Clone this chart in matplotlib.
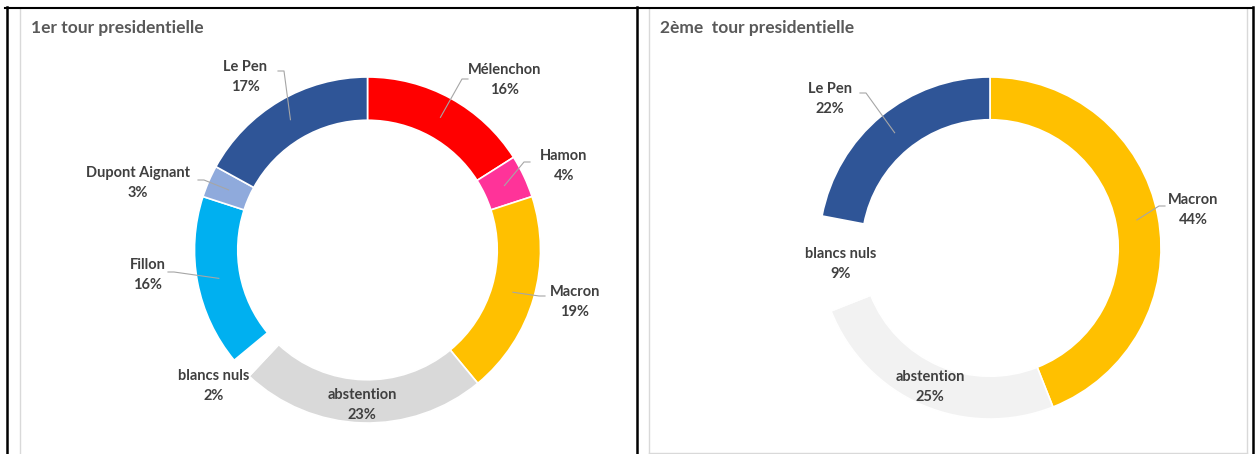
import matplotlib.pyplot as plt
import numpy as np

plt.rcParams['font.family'] = ['Lato', 'DejaVu Sans']

# 1er tour
t1_labels = ['Mélenchon', 'Hamon', 'Macron', 'abstention', 'blancs nuls',
             'Fillon', 'Dupont Aignant', 'Le Pen']
t1_values = [16, 4, 19, 23, 2, 16, 3, 17]
t1_colors = ['#FF0000', '#FF3399', '#FFC000', '#D9D9D9', '#FFFFFF',
             '#00B0F0', '#8FAADC', '#2F5597']

# 2eme tour
t2_labels = ['Macron', 'abstention', 'blancs nuls', 'Le Pen']
t2_values = [44, 25, 9, 22]
t2_colors = ['#FFC000', '#F2F2F2', '#FFFFFF', '#2F5597']

W, H = 1255, 454
fig = plt.figure(figsize=(W / 100, H / 100), dpi=100)
ax = fig.add_axes([0, 0, 1, 1])

text_color = '#404040'
line_color = '#A6A6A6'


def py(y):
    # pixel row (from top) -> data y
    return H - y


def donut(values, colors, cx, cy, r):
    wedges, _ = ax.pie(values, colors=colors, startangle=90, counterclock=False,
                       radius=r, center=(cx, py(cy)),
                       wedgeprops=dict(width=r * 0.25, edgecolor='white', linewidth=1.2))
    return wedges


def mid_point(w, cx, cy, r):
    a = np.deg2rad((w.theta1 + w.theta2) / 2)
    rm = r * 0.875
    return cx + rm * np.cos(a), py(cy) + rm * np.sin(a)


# label centre (px) and leader start (px) per label, None = no leader
t1_pos = {
    'Mélenchon': ((505, 80), (468, 79)),
    'Hamon': ((564, 166), (530, 162)),
    'Macron': ((575, 302), (545, 296)),
    'abstention': ((362, 405), None),
    'blancs nuls': ((214, 386), None),
    'Fillon': ((148, 275), (168, 272)),
    'Dupont Aignant': ((138, 183), (198, 180)),
    'Le Pen': ((245, 77), (278, 71)),
}
t2_pos = {
    'Macron': ((1193, 210), (1165, 206)),
    'abstention': ((930, 387), None),
    'blancs nuls': ((841, 264), None),
    'Le Pen': ((830, 99), (860, 93)),
}


def draw(labels, values, colors, pos, cx, cy, r):
    wedges = donut(values, colors, cx, cy, r)
    for w, lab, v in zip(wedges, labels, values):
        (tx, ty), start = pos[lab]
        if start is not None:
            ex, ey = mid_point(w, cx, cy, r)
            sx, sy = start[0], py(start[1])
            stub = 6 if ex > sx else -6
            ax.plot([sx, sx + stub, ex], [sy, sy, ey], color=line_color, lw=0.8, zorder=3)
        ax.text(tx, py(ty), f'{lab}\n{v}%', ha='center', va='center', fontsize=10.5,
                fontweight='bold', color=text_color, linespacing=1.5, zorder=4)


draw(t1_labels, t1_values, t1_colors, t1_pos, 367.5, 250, 173)
draw(t2_labels, t2_values, t2_colors, t2_pos, 990, 248, 171)

# titles
ax.text(31, py(28), '1er tour presidentielle', ha='left', va='center',
        fontsize=12.5, fontweight='bold', color='#595959')
ax.text(660, py(28), '2ème  tour presidentielle', ha='left', va='center',
        fontsize=12.5, fontweight='bold', color='#595959')

# panel borders
gray = '#D9D9D9'
ax.plot([20, 20], [py(8), py(454)], color=gray, lw=1)
ax.plot([649, 649], [py(8), py(453)], color=gray, lw=1)
ax.plot([649, 1247], [py(453), py(453)], color=gray, lw=1)
ax.plot([1247, 1247], [py(8), py(453)], color=gray, lw=1)

# black outer frame
ax.plot([5, 1253], [py(7.5), py(7.5)], color='black', lw=1.5)
ax.plot([6.5, 6.5], [py(7), py(454)], color='black', lw=1.8)
ax.plot([637, 637], [py(7), py(454)], color='black', lw=1.8)
ax.plot([1252.5, 1252.5], [py(7), py(454)], color='black', lw=1.8)

ax.set_xlim(0, W)
ax.set_ylim(0, H)
ax.set_aspect('auto')
ax.axis('off')

fig.savefig('out.png', dpi=100)
